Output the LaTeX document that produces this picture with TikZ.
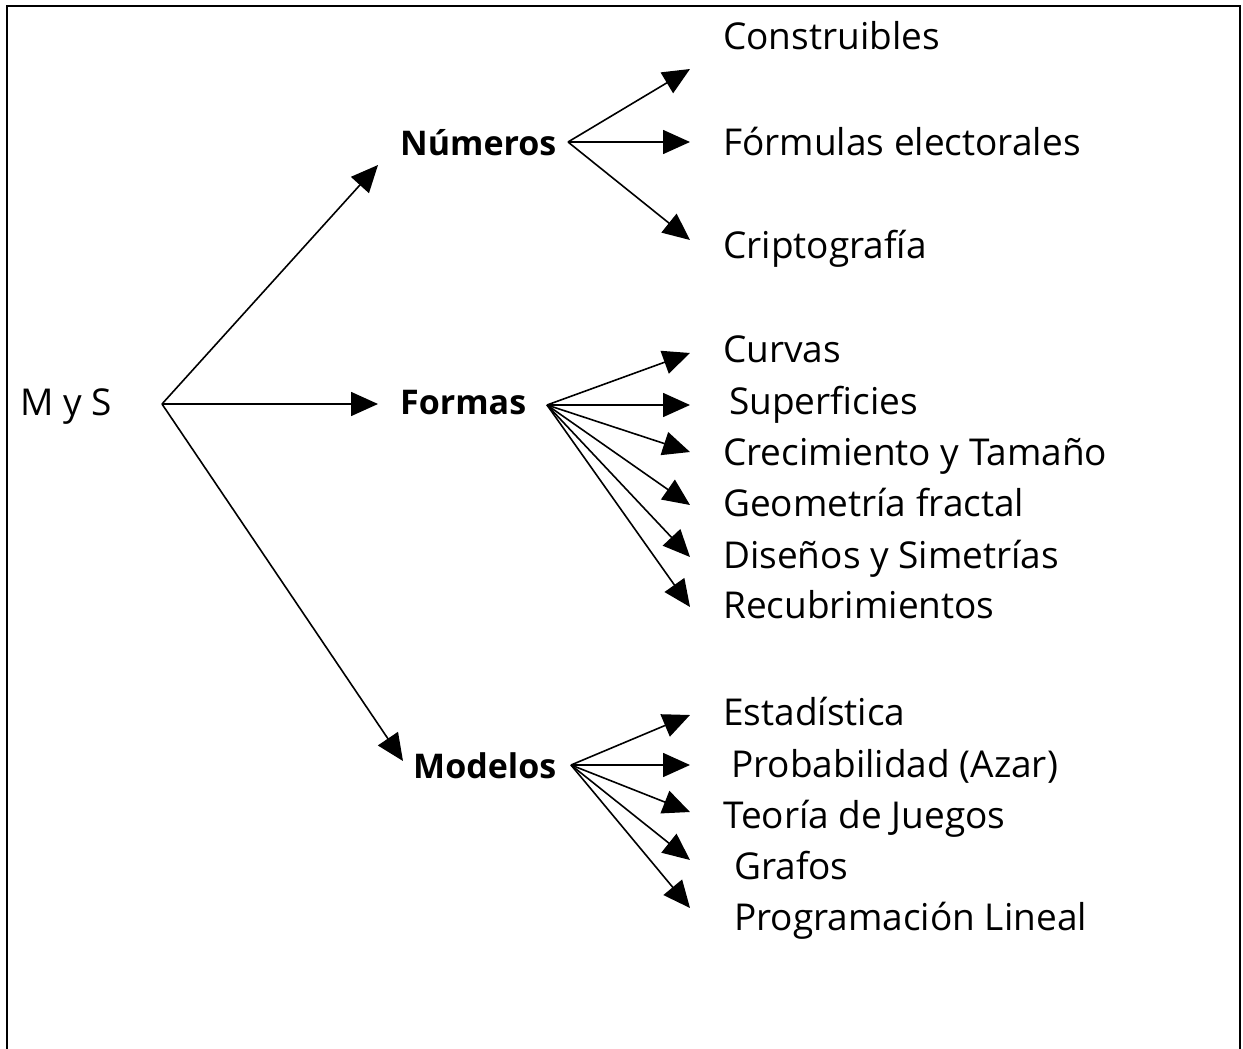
\documentclass[tikz,border=0pt]{standalone}
\usepackage{fontspec}
\setmainfont{Open Sans}
\usetikzlibrary{arrows.meta}
\begin{document}
\begin{tikzpicture}[x=1pt,y=-1pt,
  lbl/.style={anchor=base west,inner sep=0pt,font=\fontsize{37}{42}\selectfont},
  blbl/.style={lbl,font=\fontsize{34}{40}\selectfont\bfseries},
  conn/.style={line width=1.6pt,-{Triangle[length=27pt,width=24pt]}},
  frame/.style={line width=2.4pt}]
\useasboundingbox (0,0) rectangle (1243,1049);
\draw[frame] (7,1049) -- (7,6) -- (1240,6) -- (1240,1049);
% labels
\node[lbl] (mys) at (20,415) {M y S};
\node[blbl] (num) at (400,155) {Números};
\node[blbl] (for) at (400,414) {Formas};
\node[blbl] (mod) at (413,778) {Modelos};
\node[lbl] (cons) at (723,50) {Construibles};
\node[lbl] (form) at (723,155) {Fórmulas electorales};
\node[lbl] (crip) at (723,258) {Criptografía};
\node[lbl] (curv) at (723,362) {Curvas};
\node[lbl] (sup) at (729,414) {Superficies};
\node[lbl] (crec) at (723,465) {Crecimiento y Tamaño};
\node[lbl] (geo) at (723,516) {Geometría fractal};
\node[lbl] (dis) at (723,568) {Diseños y Simetrías};
\node[lbl] (rec) at (723,618) {Recubrimientos};
\node[lbl] (est) at (723,725) {Estadística};
\node[lbl] (prob) at (731,777) {Probabilidad (Azar)};
\node[lbl] (teo) at (723,828) {Teoría de Juegos};
\node[lbl] (graf) at (734,879) {Grafos};
\node[lbl] (prog) at (734,930) {Programación Lineal};
% sources
\coordinate (r) at (162,404);
\coordinate (n) at (568,142);
\coordinate (f) at (547,405);
\coordinate (m) at (571,765);
% tips
\coordinate (t-num) at (378,165);
\coordinate (t-for) at (378,404);
\coordinate (t-mod) at (403,761);
\coordinate (t-cons) at (690,69);
\coordinate (t-form) at (690,142);
\coordinate (t-crip) at (690,240);
\coordinate (t-curv) at (690,353);
\coordinate (t-sup) at (690,405);
\coordinate (t-crec) at (690,452);
\coordinate (t-geo) at (690,505);
\coordinate (t-dis) at (690,557);
\coordinate (t-rec) at (690,607);
\coordinate (t-est) at (690,715);
\coordinate (t-prob) at (690,765);
\coordinate (t-teo) at (690,812);
\coordinate (t-graf) at (690,860);
\coordinate (t-prog) at (690,908);
% connectors
\foreach \t in {num,for,mod} \draw[conn] (r) -- (t-\t);
\foreach \t in {cons,form,crip} \draw[conn] (n) -- (t-\t);
\foreach \t in {curv,sup,crec,geo,dis,rec} \draw[conn] (f) -- (t-\t);
\foreach \t in {est,prob,teo,graf,prog} \draw[conn] (m) -- (t-\t);
\end{tikzpicture}
\end{document}
